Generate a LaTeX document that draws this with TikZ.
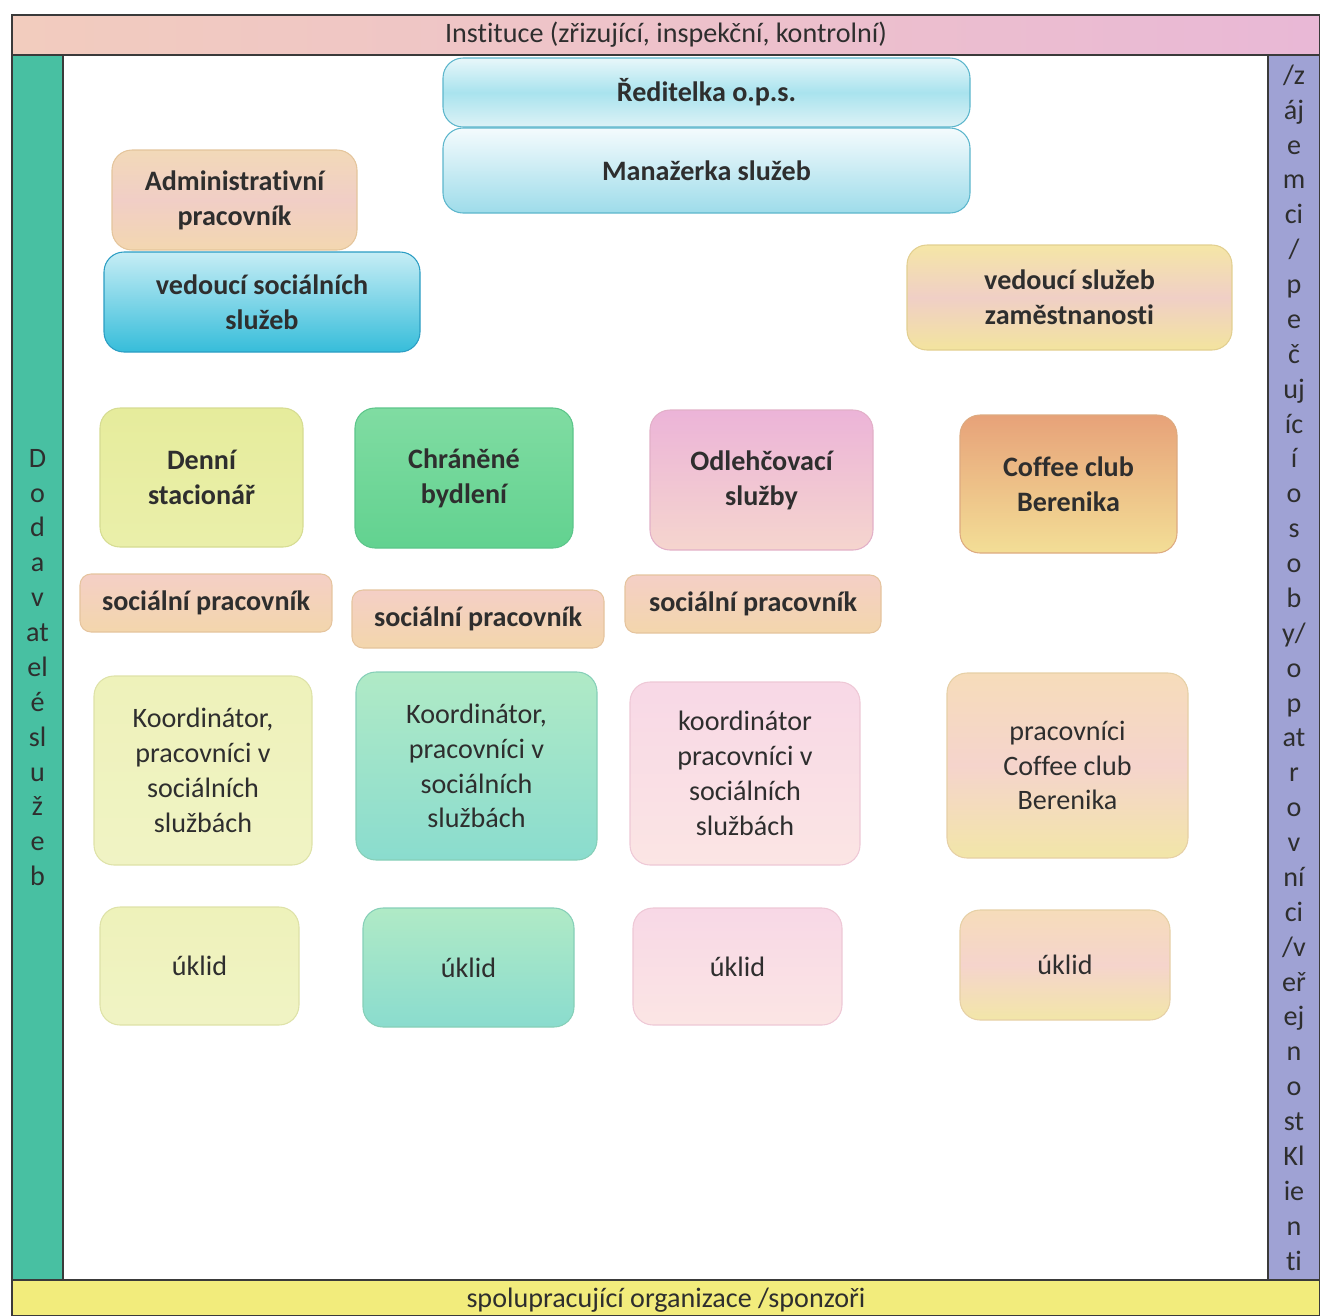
\documentclass[tikz,border=0pt]{standalone}
\usepackage{fontspec}
\setmainfont{Carlito}[Ligatures=NoCommon]
\usetikzlibrary{positioning}
\definecolor{ink}{HTML}{2E2E2E}
\definecolor{frame}{HTML}{3A3A3A}
\definecolor{instA}{HTML}{F2CCBE}
\definecolor{instB}{HTML}{E9B8D6}
\definecolor{tealband}{HTML}{48C0A2}
\definecolor{lavender}{HTML}{9FA2D4}
\definecolor{lemon}{HTML}{F2EC7C}
\definecolor{aquaA}{HTML}{E8F7FA}
\definecolor{aquaB}{HTML}{A9E3EE}
\definecolor{aquaC}{HTML}{DDF2F6}
\definecolor{aquaD}{HTML}{5CB6CC}
\definecolor{skyA}{HTML}{F4FBFD}
\definecolor{skyB}{HTML}{9EDCEA}
\definecolor{deepA}{HTML}{C6EDF5}
\definecolor{deepB}{HTML}{36BDDA}
\definecolor{deepD}{HTML}{2B9DC3}
\definecolor{peachA}{HTML}{F2D9B8}
\definecolor{peachB}{HTML}{F1CEC6}
\definecolor{peachC}{HTML}{F3D7B0}
\definecolor{peachD}{HTML}{E4C59C}
\definecolor{butterA}{HTML}{F5E6A6}
\definecolor{butterB}{HTML}{F0CFC6}
\definecolor{butterC}{HTML}{F3E49E}
\definecolor{butterD}{HTML}{E2CF90}
\definecolor{limeA}{HTML}{E6EC9C}
\definecolor{limeB}{HTML}{EAEFAA}
\definecolor{limeD}{HTML}{D6DC92}
\definecolor{mintA}{HTML}{80DCA2}
\definecolor{mintB}{HTML}{62D290}
\definecolor{mintD}{HTML}{5CC58A}
\definecolor{roseA}{HTML}{ECB4D8}
\definecolor{roseB}{HTML}{F5D5CE}
\definecolor{roseD}{HTML}{E2B0C8}
\definecolor{amberA}{HTML}{E7A279}
\definecolor{amberB}{HTML}{F3DE96}
\definecolor{amberD}{HTML}{DDAA80}
\definecolor{salmonA}{HTML}{F4CFC6}
\definecolor{salmonB}{HTML}{F3D6AC}
\definecolor{salmonD}{HTML}{E5C49E}
\definecolor{palelimeA}{HTML}{EEF2BA}
\definecolor{palelimeB}{HTML}{F0F3C4}
\definecolor{palelimeD}{HTML}{DEE2A8}
\definecolor{seaA}{HTML}{B0EAC6}
\definecolor{seaB}{HTML}{8ADCCE}
\definecolor{seaD}{HTML}{86CFB8}
\definecolor{blushA}{HTML}{F8D8E6}
\definecolor{blushB}{HTML}{FBE5E4}
\definecolor{blushD}{HTML}{EEC8D6}
\definecolor{creamA}{HTML}{F6DCBA}
\definecolor{creamB}{HTML}{F5D4CC}
\definecolor{creamC}{HTML}{F2E6A8}
\definecolor{creamD}{HTML}{E6D0A6}

\begin{document}
\begin{tikzpicture}[x=0.02cm, y=-0.02cm,
  every node/.style={text=ink, align=center, inner sep=1pt, font=\fontsize{16}{19.85}\selectfont},
  wh/.style 2 args={minimum width={#1*0.02cm}, minimum height={#2*0.02cm}},
  band/.style={draw=frame, line width=0.8pt},
  box/.style={draw, rounded corners=0.4cm, line width=0.6pt},
  slim/.style={box, rounded corners=0.22cm},
  head/.style={font=\bfseries\fontsize{16}{19.85}\selectfont},
  aqua/.style={top color=aquaA, bottom color=aquaC, middle color=aquaB, draw=aquaD},
  sky/.style={top color=skyA, bottom color=skyB, draw=aquaD},
  deepaqua/.style={top color=deepA, bottom color=deepB, draw=deepD},
  peach/.style={top color=peachA, bottom color=peachC, middle color=peachB, draw=peachD},
  butter/.style={top color=butterA, bottom color=butterC, middle color=butterB, draw=butterD},
  lime/.style={top color=limeA, bottom color=limeB, draw=limeD},
  mint/.style={top color=mintA, bottom color=mintB, draw=mintD},
  rose/.style={top color=roseA, bottom color=roseB, draw=roseD},
  amber/.style={top color=amberA, bottom color=amberB, draw=amberD},
  salmon/.style={top color=salmonA, bottom color=salmonB, draw=salmonD},
  palelime/.style={top color=palelimeA, bottom color=palelimeB, draw=palelimeD},
  seafoam/.style={top color=seaA, bottom color=seaB, draw=seaD},
  blush/.style={top color=blushA, bottom color=blushB, draw=blushD},
  cream/.style={top color=creamA, bottom color=creamC, middle color=creamB, draw=creamD}]
 \useasboundingbox (0,0) rectangle (1320,1316);

 \node[band, wh={1308}{40}, left color=instA, right color=instB, name=instituce] at (666,35)     {Instituce (zřizující, inspekční, kontrolní)};
 \node[band, wh={51}{1225},   fill=tealband,  name=dodavatele]                  at (37.5,667.5)  {D\\o\\d\\a\\v\\at\\el\\é\\sl\\u\\ž\\e\\b};
 \node[band, wh={52}{1225},   fill=lavender,  name=klienti]                     at (1294,667.5)  {/z\\áj\\e\\m\\ci\\/\\p\\e\\č\\uj\\íc\\í\\o\\s\\o\\b\\y/\\o\\p\\at\\r\\o\\v\\ní\\ci\\/v\\eř\\ej\\n\\o\\st\\Kl\\ie\\n\\ti};
 \node[band, wh={1308}{36},   fill=lemon, text depth=0pt, name=sponzori]       at (666,1298)    {spolupracující organizace /sponzoři};

 \node[box, head, aqua,     wh={527}{69},  name=reditelka]    at (706.5,92.5)  {Ředitelka o.p.s.};
 \node[box, head, sky,      wh={527}{85},  name=manazerka]    at (706.5,170.5) {Manažerka služeb};
 \node[box, head, peach,    wh={245}{100}, name=admin]        at (234.5,200)   {Administrativní\\pracovník};
 \node[box, head, deepaqua, wh={316}{100}, name=vedsoc]       at (262,302)     {vedoucí sociálních\\služeb};
 \node[box, head, butter,   wh={325}{105}, name=vedzam]       at (1069.5,297.5){vedoucí služeb\\zaměstnanosti};

 \node[box, head, lime,     wh={203}{139}, name=denni]        at (201.5,477.5) {Denní\\stacionář};
 \node[box, head, mint,     wh={218}{140}, name=chranene]     at (464,478)     {Chráněné\\bydlení};
 \node[box, head, rose,     wh={223}{140}, name=odlehcovaci]  at (761.5,480)   {Odlehčovací\\služby};
 \node[box, head, amber,    wh={217}{138}, name=coffee]       at (1068.5,484)  {Coffee club\\Berenika};

 \node[slim, head, salmon,  wh={252}{58},  name=socprac-denni]    at (206,603)   {sociální pracovník};
 \node[slim, head, salmon,  wh={252}{58},  name=socprac-chranene] at (478,619)   {sociální pracovník};
 \node[slim, head, salmon,  wh={256}{58},  name=socprac-odlehc]   at (753,604)   {sociální pracovník};

 \node[box, palelime,       wh={218}{189}, name=koord-denni]      at (203,770.5)  {Koordinátor,\\pracovníci v\\sociálních\\službách};
 \node[box, seafoam,        wh={241}{188}, name=koord-chranene]   at (476.5,766)  {Koordinátor,\\pracovníci v\\sociálních\\službách};
 \node[box, blush,          wh={230}{183}, name=koord-odlehc]     at (745,773.5)  {koordinátor\\pracovníci v\\sociálních\\službách};
 \node[box, cream,          wh={241}{185}, name=prac-coffee]      at (1067.5,765.5){pracovníci\\Coffee club\\Berenika};

 \node[box, palelime,       wh={199}{118}, name=uklid-denni]      at (199.5,966)  {úklid};
 \node[box, seafoam,        wh={211}{119}, name=uklid-chranene]   at (468.5,967.5){úklid};
 \node[box, blush,          wh={209}{117}, name=uklid-odlehc]     at (737.5,966.5){úklid};
 \node[box, cream,          wh={210}{110}, name=uklid-coffee]     at (1065,965)   {úklid};
\end{tikzpicture}
\end{document}
